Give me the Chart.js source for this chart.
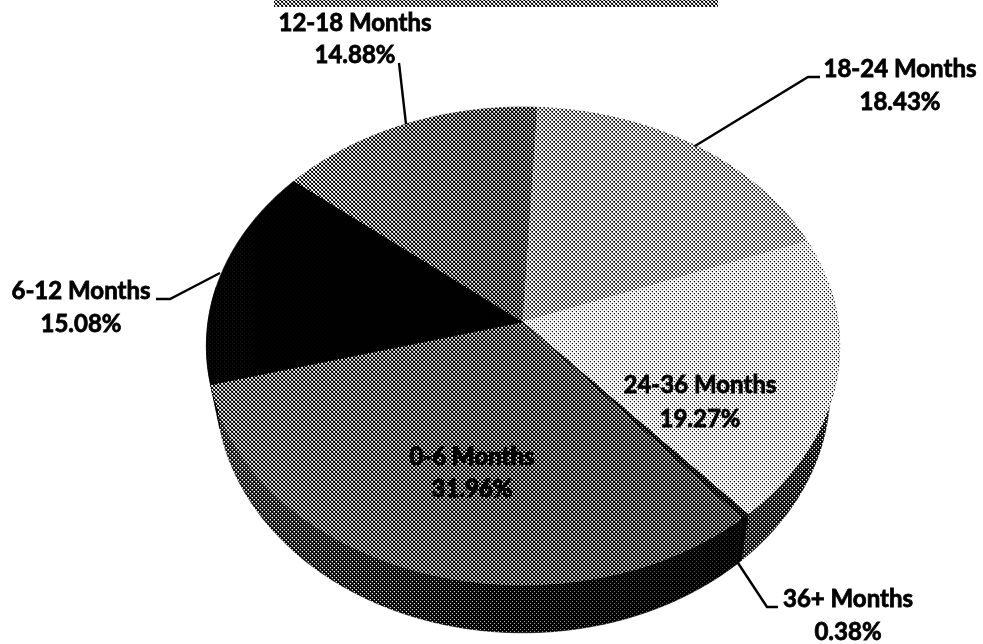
<!DOCTYPE html>
<html>
<head>
<meta charset="utf-8">
<title>Age of receivables</title>
<script src="https://cdn.jsdelivr.net/npm/chart.js@4"></script>
<style>
  html, body { margin: 0; padding: 0; background: #fff; }
  canvas { display: block; }
</style>
</head>
<body>
<canvas id="myChart" width="983" height="644"></canvas>
<script>
const categories = ['0-6 Months', '6-12 Months', '12-18 Months', '18-24 Months', '24-36 Months', '36+ Months'];
const shares = [31.96, 15.08, 14.88, 18.43, 19.27, 0.38];

// grey level of each slice, [left, right] of its gradient
const faceTones = [[118, 98], [8, 4], [128, 104], [144, 150], [184, 178], [60, 60]];
const wallTones = [[98, 20], [6, 6], [30, 30], [60, 60], [88, 74], [14, 14]];

// the tilted disc: a perspective view of the unit circle
const view = { cx: 523, cy: 322, a: 315, b: 236.6, k: -0.1004, depth: 43, lowScale: 0.97 };

const labelFont = 'bold 24px Lato';
const labelLines = { 0: [472, 465, 497], 1: [81, 299, 332], 2: [355, 31, 63], 3: [900, 77, 110], 4: [700, 393, 427], 5: [848, 607, 640] };
const leaders = {
    1: [[220, 273], [170, 299], [156, 299]],
    2: [[399, 63], [406, 124]],
    3: [[695, 146], [808, 77], [820, 77]],
    5: [[738, 563], [767, 607], [778, 607]]
};

function project(angle, drop) {
    const u = Math.cos(angle), v = Math.sin(angle);
    const w = 1 + view.k * v;
    if (drop) {
        return [view.cx + view.a * view.lowScale * u / w, view.cy + (view.b * v + view.depth) / w];
    }
    return [view.cx + view.a * u / w, view.cy + view.b * v / w];
}

function tone(g) {
    return 'rgb(' + g + ',' + g + ',' + g + ')';
}

function sideGradient(ctx, x0, x1, tones) {
    const grad = ctx.createLinearGradient(x0, 0, x1, 0);
    grad.addColorStop(0, tone(tones[0]));
    grad.addColorStop(1, tone(tones[1]));
    return grad;
}

function arcPoints(start, end, drop) {
    const pts = [];
    const steps = Math.max(2, Math.ceil((end - start) / 0.01));
    for (let i = 0; i <= steps; i++) {
        pts.push(project(start + (end - start) * i / steps, drop));
    }
    return pts;
}

function fillPath(ctx, pts, style) {
    ctx.beginPath();
    pts.forEach((p, i) => i ? ctx.lineTo(p[0], p[1]) : ctx.moveTo(p[0], p[1]));
    ctx.closePath();
    ctx.fillStyle = style;
    ctx.fill();
    ctx.strokeStyle = style;
    ctx.lineWidth = 0.6;
    ctx.stroke();
}

function drawLabel(ctx, i) {
    const pos = labelLines[i];
    const pct = shares[i].toFixed(2) + '%';
    ctx.fillStyle = '#000';
    ctx.strokeStyle = '#000';
    ctx.font = labelFont;
    ctx.lineWidth = 0.8;
    ctx.textAlign = 'center';
    ctx.textBaseline = 'alphabetic';
    ctx.fillText(categories[i], pos[0], pos[1]);
    ctx.strokeText(categories[i], pos[0], pos[1]);
    ctx.fillText(pct, pos[0], pos[2]);
    ctx.strokeText(pct, pos[0], pos[2]);
}

const discPlugin = {
    id: 'disc',
    beforeDatasetDraw(chart) {
        const ctx = chart.ctx;
        const arcs = chart.getDatasetMeta(0).data;
        const twoPi = Math.PI * 2;

        // header bar cut off by the crop of the page
        ctx.fillStyle = tone(128);
        ctx.fillRect(274, 0, 444, 7);

        // walls first, only the part of the rim that faces us
        arcs.forEach((arc, i) => {
            for (const shift of [0, -twoPi]) {
                const start = Math.max(arc.startAngle + shift, -0.15);
                const end = Math.min(arc.endAngle + shift, Math.PI + 0.15);
                if (end <= start) continue;
                const top = arcPoints(start, end, false);
                const low = arcPoints(start, end, true).reverse();
                const xs = top.concat(low).map(p => p[0]);
                fillPath(ctx, top.concat(low), sideGradient(ctx, Math.min(...xs), Math.max(...xs), wallTones[i]));
            }
        });

        arcs.forEach((arc, i) => {
            const pts = arcPoints(arc.startAngle, arc.endAngle, false);
            pts.push([view.cx, view.cy]);
            const xs = pts.map(p => p[0]);
            fillPath(ctx, pts, sideGradient(ctx, Math.min(...xs), Math.max(...xs), faceTones[i]));
        });
        return false;
    },
    afterDraw(chart) {
        const ctx = chart.ctx;

        // the label on the dark slice goes under the halftone, it is smeared in the source
        drawLabel(ctx, 0);

        // halftone the page, the source is a scanned print
        const w = chart.canvas.width, h = chart.canvas.height;
        const img = ctx.getImageData(0, 0, w, h);
        const d = img.data;
        const period = 4;
        for (let y = 0; y < h; y++) {
            for (let x = 0; x < w; x++) {
                const o = (y * w + x) * 4;
                const g = d[o] / 255;
                const c = Math.cos(2 * Math.PI * (x + 0.25) / period) * Math.cos(2 * Math.PI * (y + 0.75) / period);
                const t = 0.5 + 0.4 * c;
                const out = Math.min(1, Math.max(0, (g - t) * 3.5 + 0.5));
                d[o] = d[o + 1] = d[o + 2] = out * 255;
            }
        }
        ctx.putImageData(img, 0, 0);

        ctx.strokeStyle = '#000';
        ctx.lineWidth = 2.4;
        Object.values(leaders).forEach(line => {
            ctx.beginPath();
            line.forEach((p, i) => i ? ctx.lineTo(p[0], p[1]) : ctx.moveTo(p[0], p[1]));
            ctx.stroke();
        });

        categories.forEach((name, i) => {
            if (i > 0) drawLabel(ctx, i);
        });
    }
};

new Chart(document.getElementById('myChart'), {
    type: 'pie',
    data: {
        labels: categories,
        datasets: [{ data: shares, borderWidth: 0 }]
    },
    options: {
        responsive: false,
        animation: false,
        devicePixelRatio: 1,
        rotation: 140,
        plugins: { legend: { display: false }, tooltip: { enabled: false } }
    },
    plugins: [discPlugin]
});
</script>
</body>
</html>
